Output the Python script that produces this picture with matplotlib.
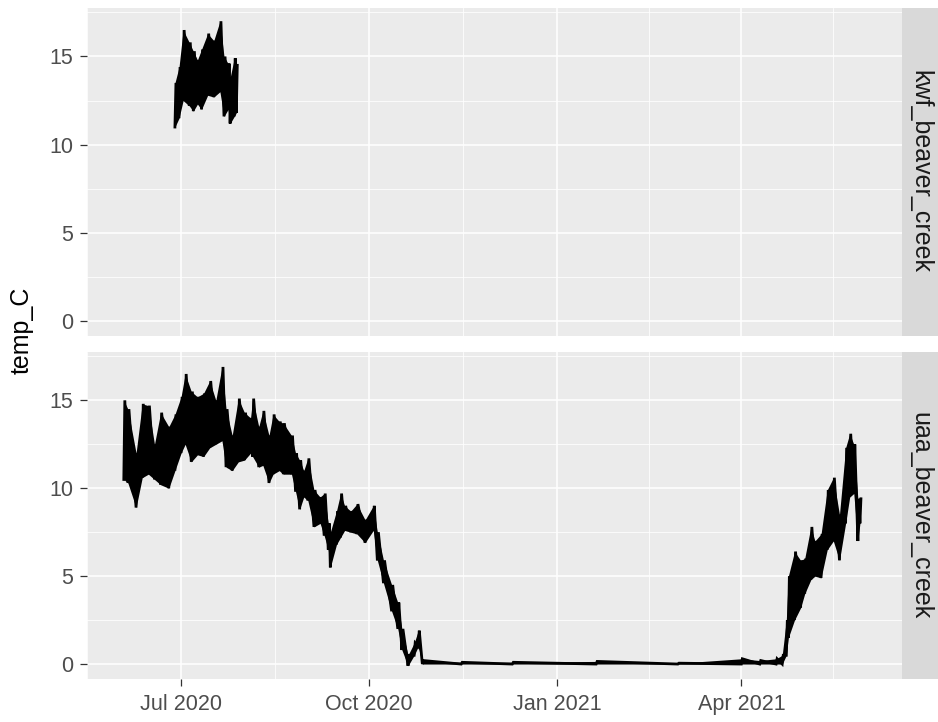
import numpy as np
import matplotlib
matplotlib.use('Agg')
import matplotlib.pyplot as plt
import matplotlib.dates as mdates

# daily envelope: date, daily min, daily max (temp_C)
kwf_dates = ['2020-06-28', '2020-06-30', '2020-07-02', '2020-07-05', '2020-07-07',
             '2020-07-09', '2020-07-11', '2020-07-14', '2020-07-17', '2020-07-20',
             '2020-07-22', '2020-07-24', '2020-07-25', '2020-07-27', '2020-07-28']
kwf_lo = [11.0, 11.5, 12.5, 12.2, 11.9, 12.3, 12.0, 12.8, 12.7, 13.0, 11.6, 12.0, 11.2, 11.6, 11.8]
kwf_hi = [13.5, 14.4, 16.5, 15.8, 15.3, 14.8, 15.4, 16.3, 15.9, 17.0, 15.0, 14.6, 13.8, 14.9, 14.5]

uaa_dates = ['2020-06-03', '2020-06-05', '2020-06-09', '2020-06-12', '2020-06-15',
             '2020-06-18', '2020-06-21', '2020-06-25', '2020-06-28', '2020-07-01',
             '2020-07-03', '2020-07-06', '2020-07-09', '2020-07-12', '2020-07-15',
             '2020-07-18', '2020-07-21', '2020-07-23', '2020-07-26', '2020-07-29',
             '2020-08-01', '2020-08-04', '2020-08-05', '2020-08-08', '2020-08-10',
             '2020-08-13', '2020-08-15', '2020-08-18', '2020-08-20', '2020-08-24',
             '2020-08-26', '2020-08-28', '2020-08-30', '2020-09-01', '2020-09-04',
             '2020-09-07', '2020-09-09', '2020-09-11', '2020-09-12', '2020-09-15',
             '2020-09-17', '2020-09-19', '2020-09-22', '2020-09-25', '2020-09-29',
             '2020-10-03', '2020-10-05', '2020-10-08', '2020-10-12', '2020-10-15',
             '2020-10-17', '2020-10-20', '2020-10-23', '2020-10-25', '2020-10-27',
             '2020-11-15', '2020-12-10', '2021-01-20', '2021-03-01', '2021-04-01',
             '2021-04-10', '2021-04-18', '2021-04-21', '2021-04-23', '2021-04-24',
             '2021-04-27', '2021-04-30', '2021-05-02', '2021-05-05', '2021-05-07',
             '2021-05-10', '2021-05-13', '2021-05-16', '2021-05-19', '2021-05-22',
             '2021-05-24', '2021-05-26', '2021-05-28', '2021-05-29']
uaa_lo = [10.5, 10.3, 8.9, 10.6, 10.8, 10.5, 10.2, 10.0, 11.0, 12.0,
          12.5, 11.5, 11.9, 11.8, 12.3, 12.5, 12.7, 11.2, 11.0, 11.5,
          11.6, 12.0, 11.8, 11.2, 11.3, 10.3, 10.8, 11.0, 10.8, 10.8,
          9.8, 8.8, 9.5, 9.3, 7.8, 8.0, 7.3, 6.5, 5.5, 6.8,
          7.2, 7.6, 7.5, 7.4, 6.9, 7.6, 5.9, 4.6, 3.0, 2.0,
          0.8, -0.1, 0.5, 1.0, 0.0, 0.0, 0.0, 0.0, 0.0, 0.0,
          0.0, 0.0, 0.0, 0.5, 1.5, 2.5, 3.2, 4.0, 4.8, 5.0,
          4.9, 6.5, 7.0, 5.9, 8.0, 9.5, 9.7, 7.0, 8.0]
uaa_hi = [15.0, 14.5, 12.0, 14.8, 14.7, 12.5, 14.3, 13.5, 14.2, 15.2,
          16.5, 15.5, 15.2, 15.4, 16.1, 15.0, 16.9, 14.5, 13.0, 15.1,
          14.3, 14.0, 15.1, 13.5, 14.4, 13.0, 14.2, 13.8, 13.7, 13.0,
          12.0, 11.6, 11.0, 11.7, 9.9, 9.5, 9.7, 8.0, 7.5, 8.7,
          9.7, 9.0, 8.7, 9.1, 8.2, 9.0, 7.5, 5.9, 4.5, 3.5,
          2.0, 0.5, 1.2, 1.9, 0.2, 0.1, 0.1, 0.15, 0.05, 0.3,
          0.2, 0.3, 0.5, 2.5, 5.0, 6.4, 5.9, 6.0, 7.8, 7.0,
          7.4, 9.9, 10.6, 8.5, 12.3, 13.1, 12.5, 9.4, 9.4]

facets = [('kwf_beaver_creek', kwf_dates, kwf_lo, kwf_hi),
          ('uaa_beaver_creek', uaa_dates, uaa_lo, uaa_hi)]

W, H = 938, 722
plt.rcParams['font.family'] = ['Liberation Sans', 'DejaVu Sans']
fig = plt.figure(figsize=(W / 100, H / 100), dpi=100)

panels = [(87, 8, 902, 336), (87, 352, 902, 679)]
xmin = mdates.date2num(np.datetime64('2020-05-17'))
xmax = mdates.date2num(np.datetime64('2021-06-18T14:00'))
major = [mdates.date2num(np.datetime64(d)) for d in
         ['2020-07-01', '2020-10-01', '2021-01-01', '2021-04-01']]
minor = [mdates.date2num(np.datetime64(d)) for d in
         ['2020-05-16', '2020-08-16', '2020-11-16', '2021-02-15', '2021-05-16']]

for i, ((x0, y0, x1, y1), (name, dates, lo, hi)) in enumerate(zip(panels, facets)):
    ax = fig.add_axes([x0 / W, 1 - y1 / H, (x1 - x0) / W, (y1 - y0) / H])
    ax.set_facecolor('#EBEBEB')
    for s in ax.spines.values():
        s.set_visible(False)
    ax.set_xlim(xmin, xmax)
    ax.set_ylim(-0.85, 17.75)

    ax.set_xticks(major)
    ax.set_xticks(minor, minor=True)
    ax.set_yticks([0, 5, 10, 15])
    ax.set_yticks([2.5, 7.5, 12.5, 17.5], minor=True)
    ax.grid(True, which='major', color='white', lw=1.1)
    ax.grid(True, which='minor', color='white', lw=0.55)
    ax.set_axisbelow(True)
    ax.tick_params(which='minor', length=0)
    ax.tick_params(which='major', length=5, width=0.9, color='#333333',
                   labelcolor='#4D4D4D', labelsize=15.5)
    ax.tick_params(axis='y', pad=5)
    ax.tick_params(axis='x', pad=6)

    t = mdates.date2num(np.array(dates, dtype='datetime64[D]'))
    # zigzag daily cycle: min at midnight, max at noon
    tz = np.column_stack([t, t + 0.5]).ravel()
    vz = np.column_stack([lo, hi]).ravel()
    ax.fill_between(t, lo, hi, color='black', lw=0)
    ax.plot(tz, vz, color='black', lw=2.0, solid_joinstyle='miter')

    if i == 0:
        ax.tick_params(axis='x', length=0, labelbottom=False)
    else:
        ax.set_xticklabels(['Jul 2020', 'Oct 2020', 'Jan 2021', 'Apr 2021'])

    # facet strip
    sx = fig.add_axes([902 / W, 1 - y1 / H, 36 / W, (y1 - y0) / H])
    sx.set_facecolor('#D9D9D9')
    sx.set_xticks([])
    sx.set_yticks([])
    for s in sx.spines.values():
        s.set_visible(False)
    sx.text(0.5, 0.5, name, rotation=-90, ha='center', va='center',
            fontsize=18, color='#1A1A1A', transform=sx.transAxes)

fig.text(22 / W, 1 - 330 / H, 'temp_C', rotation=90, ha='center', va='center',
         fontsize=18, color='black')

fig.savefig('out.png', dpi=100, facecolor='white')
